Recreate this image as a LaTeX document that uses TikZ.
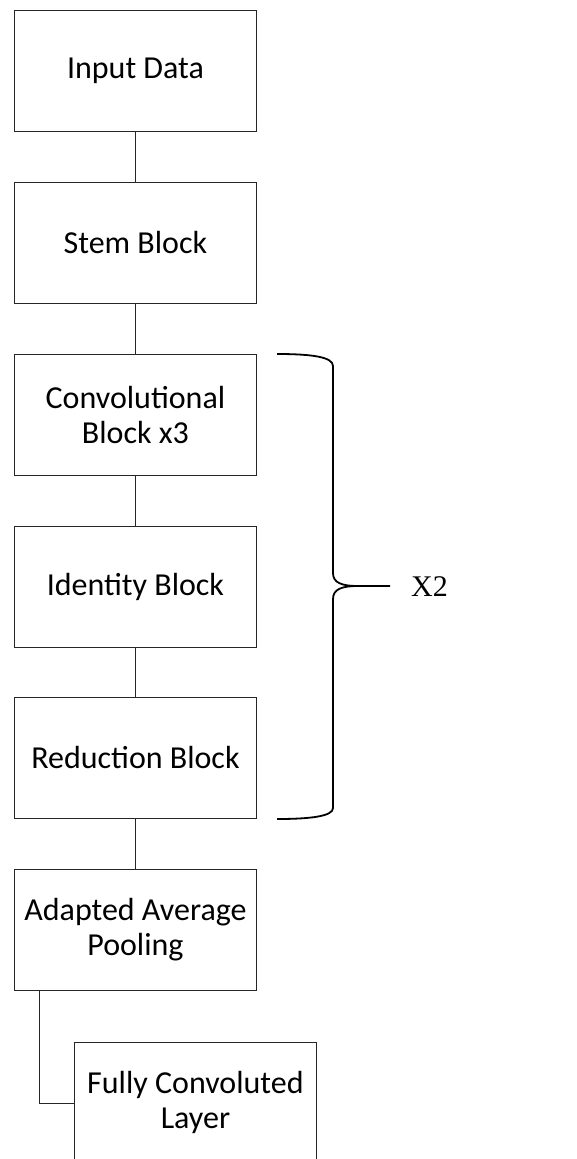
\documentclass[tikz,border=0pt]{standalone}
\usepackage{fontspec}
\setmainfont{Carlito}
\newfontfamily\timesfont{Liberation Serif}
\begin{document}
\begin{tikzpicture}[x=1pt,y=-1pt,
  blockbox/.style={draw=black!85, line width=0.9pt, minimum width=242pt, minimum height=121pt,
    inner sep=0pt, anchor=north west, align=center, font=\fontsize{32}{35}\selectfont},
  link/.style={draw=black!85, line width=0.9pt},
  bracestyle/.style={draw=black, line width=1.8pt}]
\useasboundingbox (0,0) rectangle (576,1159);
\node[blockbox] (inp) at (14,10) {Input Data};
\node[blockbox] (stem) at (14,182) {Stem Block};
\node[blockbox] (conv) at (14,354) {Convolutional\\Block x3};
\node[blockbox] (iden) at (14,526) {Identity Block};
\node[blockbox] (red) at (14,697) {Reduction Block};
\node[blockbox] (aap) at (14,869) {Adapted Average\\Pooling};
\node[blockbox] (fcl) at (74,1042) {Fully Convoluted\\Layer};
\draw[link] (inp.south) -- (stem.north);
\draw[link] (stem.south) -- (conv.north);
\draw[link] (conv.south) -- (iden.north);
\draw[link] (iden.south) -- (red.north);
\draw[link] (red.south) -- (aap.north);
\draw[link] ([xshift=25pt]aap.south west) |- (fcl.west);
% brace
\coordinate (btop) at (277,354);
\coordinate (bbot) at (277,819);
\coordinate (btip) at (390,586);
\draw[bracestyle, line join=round] (btop) .. controls (312,354) and (333,357) .. (333,366)
  -- (333,573) .. controls (333,583) and (342,586) .. (358,586) -- (btip);
\draw[bracestyle, line join=round] (358,586) .. controls (342,586) and (333,589) .. (333,599)
  -- (333,808) .. controls (333,816) and (312,819) .. (bbot);
\node[anchor=west, inner sep=0pt, font=\timesfont\fontsize{30}{34}\selectfont] (xtwo) at (411,587) {X2};
\end{tikzpicture}
\end{document}
